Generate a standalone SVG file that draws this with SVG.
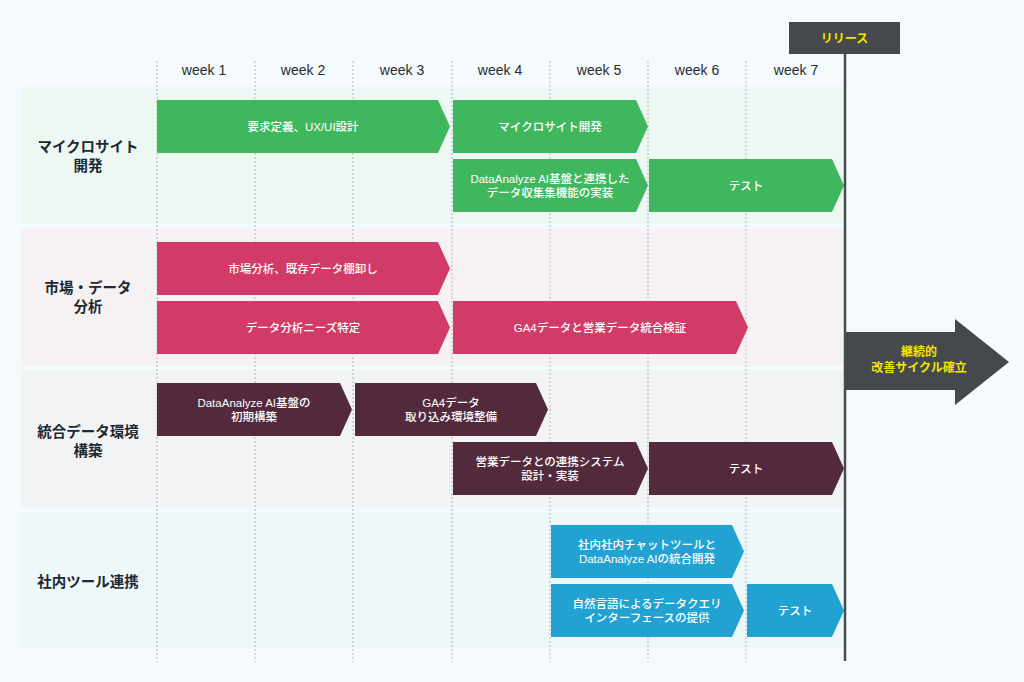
<svg xmlns="http://www.w3.org/2000/svg" width="1024" height="682" viewBox="0 0 1024 682">
<style>
text{font-family:"Liberation Sans","Noto Sans CJK JP",sans-serif}
.wk{font-size:14px;fill:#262c31;text-anchor:middle}
.lbl{font-size:14.5px;font-weight:700;fill:#1d2832;text-anchor:middle}
.bt{font-size:11.5px;font-weight:500;fill:#ffffff;text-anchor:middle}
.yt{font-size:12px;font-weight:700;fill:#f3e600;text-anchor:middle}
.grid{stroke:#b3b9bd;stroke-width:1;stroke-dasharray:2 2}
.g{fill:#3fb75e}.p{fill:#d23b67}.m{fill:#532a3c}.b{fill:#22a2d3}
</style>
<rect width="1024" height="682" fill="#f5fafd"/>
<g id="rows">
<rect x="21" y="87" width="824" height="137" fill="#eef8f2"/>
<rect x="21" y="229" width="824" height="137" fill="#f6f2f4"/>
<rect x="21" y="370" width="824" height="137" fill="#f2f3f3"/>
<rect x="21" y="512" width="824" height="137" fill="#eef8fa"/>
</g>
<g id="grid">
<line class="grid" x1="157" y1="61" x2="157" y2="662"/>
<line class="grid" x1="255" y1="61" x2="255" y2="662"/>
<line class="grid" x1="353" y1="61" x2="353" y2="662"/>
<line class="grid" x1="452" y1="61" x2="452" y2="662"/>
<line class="grid" x1="550" y1="61" x2="550" y2="662"/>
<line class="grid" x1="648" y1="61" x2="648" y2="662"/>
<line class="grid" x1="746" y1="61" x2="746" y2="662"/>
</g>
<g id="weeks">
<text class="wk" x="204" y="75">week 1</text>
<text class="wk" x="303" y="75">week 2</text>
<text class="wk" x="402" y="75">week 3</text>
<text class="wk" x="500" y="75">week 4</text>
<text class="wk" x="599" y="75">week 5</text>
<text class="wk" x="697" y="75">week 6</text>
<text class="wk" x="796" y="75">week 7</text>
</g>
<g id="row-labels">
<g id="label-microsite"><text class="lbl" x="88" y="152">マイクロサイト</text><text class="lbl" x="88" y="171">開発</text></g>
<g id="label-market"><text class="lbl" x="88" y="293">市場・データ</text><text class="lbl" x="88" y="312">分析</text></g>
<g id="label-data-env"><text class="lbl" x="88" y="437">統合データ環境</text><text class="lbl" x="88" y="456">構築</text></g>
<g id="label-tools"><text class="lbl" x="88" y="587">社内ツール連携</text></g>
</g>
<g id="bars">
<g id="t1"><polygon class="g" points="157,100 438,100 450,126.5 438,153 157,153"/><text class="bt" x="303" y="131">要求定義、UX/UI設計</text></g>
<g id="t2"><polygon class="g" points="453,100 636,100 648,126.5 636,153 453,153"/><text class="bt" x="550" y="131">マイクロサイト開発</text></g>
<g id="t3"><polygon class="g" points="453,159 636,159 648,185.5 636,212 453,212"/><text class="bt" x="550" y="183">DataAnalyze AI基盤と連携した</text><text class="bt" x="550" y="197">データ収集集機能の実装</text></g>
<g id="t4"><polygon class="g" points="649,159 832,159 844,185.5 832,212 649,212"/><text class="bt" x="746" y="190">テスト</text></g>
<g id="t5"><polygon class="p" points="157,242 438,242 450,268.5 438,295 157,295"/><text class="bt" x="303" y="273">市場分析、既存データ棚卸し</text></g>
<g id="t6"><polygon class="p" points="157,301 438,301 450,327.5 438,354 157,354"/><text class="bt" x="303" y="332">データ分析ニーズ特定</text></g>
<g id="t7"><polygon class="p" points="453,301 736,301 748,327.5 736,354 453,354"/><text class="bt" x="600" y="332">GA4データと営業データ統合検証</text></g>
<g id="t8"><polygon class="m" points="157,383 340,383 352,409.5 340,436 157,436"/><text class="bt" x="254" y="407">DataAnalyze AI基盤の</text><text class="bt" x="254" y="421">初期構築</text></g>
<g id="t9"><polygon class="m" points="355,383 536,383 548,409.5 536,436 355,436"/><text class="bt" x="451" y="407">GA4データ</text><text class="bt" x="451" y="421">取り込み環境整備</text></g>
<g id="t10"><polygon class="m" points="453,442 636,442 648,468.5 636,495 453,495"/><text class="bt" x="550" y="466">営業データとの連携システム</text><text class="bt" x="550" y="480">設計・実装</text></g>
<g id="t11"><polygon class="m" points="649,442 832,442 844,468.5 832,495 649,495"/><text class="bt" x="746" y="473">テスト</text></g>
<g id="t12"><polygon class="b" points="551,525 732,525 744,551.5 732,578 551,578"/><text class="bt" x="647" y="549">社内社内チャットツールと</text><text class="bt" x="647" y="563">DataAnalyze AIの統合開発</text></g>
<g id="t13"><polygon class="b" points="551,584 732,584 744,610.5 732,637 551,637"/><text class="bt" x="647" y="608">自然言語によるデータクエリ</text><text class="bt" x="647" y="622">インターフェースの提供</text></g>
<g id="t14"><polygon class="b" points="747,584 832,584 844,610.5 832,637 747,637"/><text class="bt" x="795" y="615">テスト</text></g>
</g>
<g id="connectors">
<line x1="845" y1="54" x2="845" y2="661" stroke="#484c4f" stroke-width="2.5"/>
</g>
<g id="release">
<rect x="789" y="22" width="111" height="32" fill="#45494c"/>
<text class="yt" x="844.5" y="42.5">リリース</text>
</g>
<g id="continuous">
<polygon points="846,332 955,332 955,319 1009,362 955,405 955,390 846,390" fill="#45494c"/>
<text class="yt" x="919" y="356">継続的</text>
<text class="yt" x="919" y="372">改善サイクル確立</text>
</g>
</svg>
